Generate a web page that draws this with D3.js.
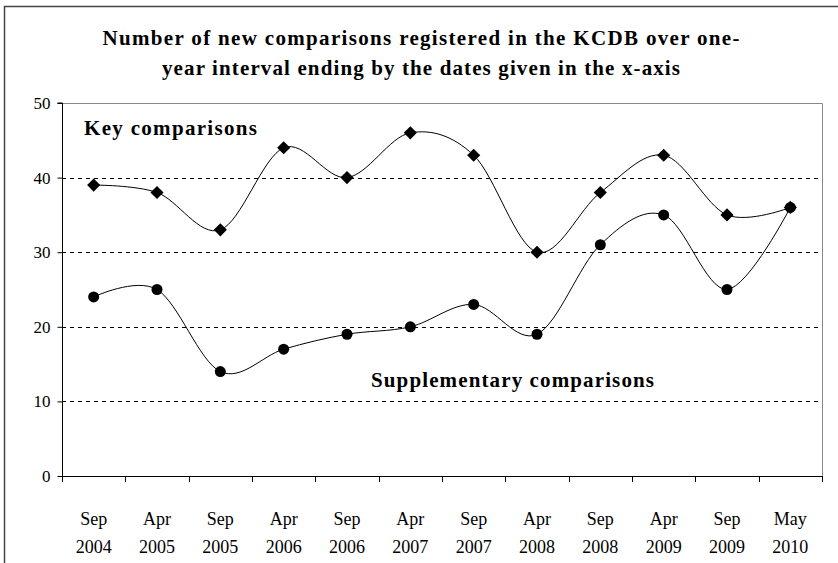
<!DOCTYPE html>
<html lang="en">
<head>
    <meta charset="UTF-8">
    <title>KCDB comparisons</title>
    <script src="https://cdn.jsdelivr.net/npm/d3@7"></script>
    <style>
        body { margin: 0; background: white; }
        svg { display: block; }
    </style>
</head>
<body>
    <svg id="chart" width="838" height="563"></svg>
    <script>
        // data
        const months = ["Sep", "Apr", "Sep", "Apr", "Sep", "Apr", "Sep", "Apr", "Sep", "Apr", "Sep", "May"]
        const years = ["2004", "2005", "2005", "2006", "2006", "2007", "2007", "2008", "2008", "2009", "2009", "2010"]
        const keyComparisons = [39, 38, 33, 44, 40, 46, 43, 30, 38, 43, 35, 36]
        const suppComparisons = [24, 25, 14, 17, 19, 20, 23, 19, 31, 35, 25, 36]
        const yTicks = [0, 10, 20, 30, 40, 50]
        const titleLines = [
            "Number of new comparisons registered in the KCDB over one-",
            "year interval ending by the dates given in the x-axis"
        ]

        const serif = "\"Liberation Serif\", \"Times New Roman\", serif"
        const svg = d3.select("#chart")
        const pLeft = 62, pRight = 822, pTop = 103, pBottom = 476

        const idx = d3.range(months.length)
        const x = d3.scaleBand().domain(idx).range([pLeft, pRight])
        const cx = i => x(i) + x.bandwidth() / 2
        const y = d3.scaleLinear().domain([0, 50]).range([pBottom, pTop])

        // outer frame (only top/left visible in the original crop)
        svg.append("path")
            .attr("d", "M4.5,563 V6.5 H838")
            .attr("fill", "none")
            .attr("stroke", "#444")
            .attr("stroke-width", 1.5)

        // title, stretched to the width it has in the original
        const titleWidths = [637, 518]
        svg.append("g").selectAll("text")
            .data(titleLines)
            .enter().append("text")
            .attr("x", (d, i) => 421 - titleWidths[i] / 2)
            .attr("y", (d, i) => 45 + i * 30)
            .style("font-family", serif)
            .style("font-size", "21px")
            .style("font-weight", "bold")
            .attr("textLength", (d, i) => titleWidths[i])
            .attr("lengthAdjust", "spacing")
            .text(d => d)

        // plot area borders (top + right grey)
        svg.append("path")
            .attr("d", `M${pLeft},${pTop + 0.5} H${pRight + 0.5} V${pBottom}`)
            .attr("fill", "none")
            .attr("stroke", "#888")

        // dashed gridlines
        svg.append("g").selectAll("line")
            .data(yTicks.filter(t => t > 0 && t < 50))
            .enter().append("line")
            .attr("x1", pLeft).attr("x2", pRight)
            .attr("y1", d => Math.round(y(d)) + 0.5)
            .attr("y2", d => Math.round(y(d)) + 0.5)
            .attr("stroke", "black")
            .attr("stroke-dasharray", "4,4")

        // y axis
        const yAxis = d3.axisLeft(y).tickValues(yTicks).tickSize(5).tickPadding(7)
        const gy = svg.append("g")
            .attr("transform", `translate(${pLeft + 0.5},0)`)
            .call(yAxis)
        gy.select(".domain").attr("stroke", "black").attr("d", `M-5,${pTop}H0V${pBottom}`)
        gy.selectAll("text")
            .style("font-family", serif)
            .style("font-size", "17px")
            .attr("fill", "black")

        // x axis: ticks at category boundaries
        const gx = svg.append("g")
        gx.append("line")
            .attr("x1", pLeft).attr("x2", pRight + 1)
            .attr("y1", pBottom + 0.5).attr("y2", pBottom + 0.5)
            .attr("stroke", "black")
        gx.selectAll(".tk")
            .data(idx.concat([months.length]))
            .enter().append("line")
            .attr("x1", i => Math.round(i < months.length ? x(i) : pRight) + 0.5)
            .attr("x2", i => Math.round(i < months.length ? x(i) : pRight) + 0.5)
            .attr("y1", pBottom).attr("y2", pBottom + 6)
            .attr("stroke", "black")
        gx.selectAll(".m")
            .data(idx)
            .enter().append("text")
            .attr("x", i => cx(i))
            .attr("y", 525)
            .attr("text-anchor", "middle")
            .style("font-family", serif)
            .style("font-size", "18px")
            .text(i => months[i])
        gx.selectAll(".yr")
            .data(idx)
            .enter().append("text")
            .attr("x", i => cx(i))
            .attr("y", 553)
            .attr("text-anchor", "middle")
            .style("font-family", serif)
            .style("font-size", "18px")
            .text(i => years[i])

        // smoothed lines
        const line = d3.line()
            .x((d, i) => cx(i))
            .y(d => y(d))
            .curve(d3.curveCardinal.tension(0))

        svg.append("path")
            .attr("d", line(keyComparisons))
            .attr("fill", "none")
            .attr("stroke", "black")
            .attr("stroke-width", 1)
        svg.append("path")
            .attr("d", line(suppComparisons))
            .attr("fill", "none")
            .attr("stroke", "black")
            .attr("stroke-width", 1)

        // markers
        svg.append("g").selectAll("path")
            .data(keyComparisons)
            .enter().append("path")
            .attr("d", d3.symbol().type(d3.symbolDiamond2).size(110))
            .attr("transform", (d, i) => `translate(${cx(i)},${y(d)})`)
            .attr("fill", "black")
        svg.append("g").selectAll("circle")
            .data(suppComparisons)
            .enter().append("circle")
            .attr("cx", (d, i) => cx(i))
            .attr("cy", d => y(d))
            .attr("r", 5.5)
            .attr("fill", "black")

        // series labels
        svg.append("text")
            .attr("x", 84).attr("y", 135)
            .style("font-family", serif)
            .style("font-size", "21px")
            .style("font-weight", "bold")
            .attr("textLength", 173)
            .attr("lengthAdjust", "spacing")
            .text("Key comparisons")
        svg.append("text")
            .attr("x", 371).attr("y", 387)
            .style("font-family", serif)
            .style("font-size", "21px")
            .style("font-weight", "bold")
            .attr("textLength", 283)
            .attr("lengthAdjust", "spacing")
            .text("Supplementary comparisons")
    </script>
</body>
</html>
